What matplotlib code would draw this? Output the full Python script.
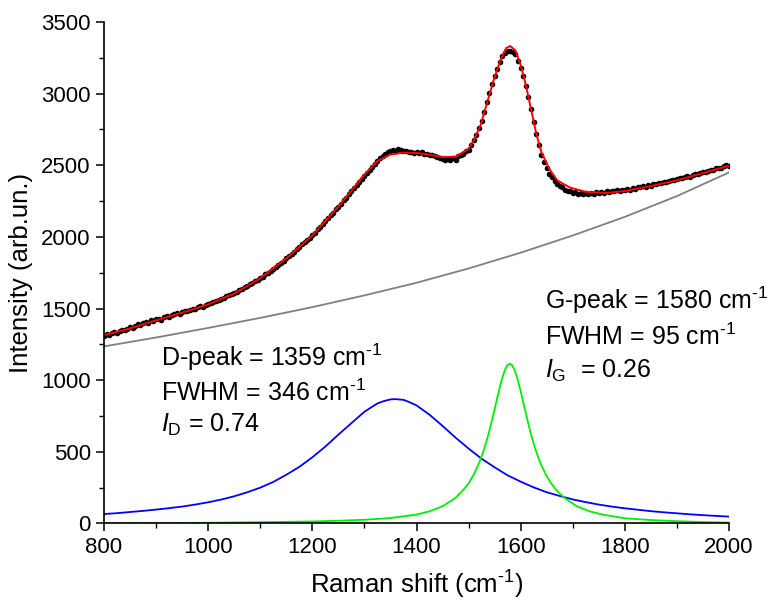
import matplotlib
matplotlib.use("Agg")
import matplotlib.pyplot as plt
from matplotlib.ticker import MultipleLocator

plt.rcParams['font.family'] = ['Liberation Sans', 'DejaVu Sans']
plt.rcParams['mathtext.fontset'] = 'custom'
plt.rcParams['mathtext.rm'] = 'Liberation Sans'
plt.rcParams['mathtext.it'] = 'Liberation Sans:italic'
plt.rcParams['mathtext.bf'] = 'Liberation Sans:bold'

# ---- measured spectrum (black dots), every 5 cm-1 from 800 to 2000 ----
data_start = 800
data_step = 5
data_y = [
    1310, 1322, 1318, 1330, 1335, 1328, 1345, 1352, 1348, 1360,
    1372, 1365, 1380, 1392, 1385, 1398, 1405, 1400, 1418, 1412,
    1425, 1430, 1422, 1440, 1446, 1438, 1455, 1462, 1470, 1465,
    1478, 1485, 1480, 1492, 1500, 1496, 1510, 1515, 1512, 1525,
    1534, 1540, 1548, 1552, 1562, 1570, 1575, 1586, 1592, 1600,
    1610, 1618, 1628, 1640, 1648, 1660, 1672, 1678, 1692, 1700,
    1715, 1722, 1738, 1748, 1762, 1775, 1790, 1802, 1820, 1832,
    1852, 1865, 1882, 1898, 1915, 1930, 1948, 1962, 1982, 1996,
    2015, 2030, 2052, 2068, 2090, 2108, 2130, 2150, 2168, 2192,
    2212, 2232, 2255, 2272, 2298, 2318, 2340, 2360, 2382, 2402,
    2425, 2448, 2470, 2490, 2512, 2532, 2550, 2565, 2580, 2590,
    2598, 2605, 2600, 2612, 2605, 2598, 2602, 2590, 2595, 2588,
    2592, 2585, 2590, 2578, 2582, 2570, 2575, 2562, 2560, 2548,
    2545, 2538, 2542, 2535, 2548, 2540, 2565, 2572, 2580, 2598,
    2610, 2640, 2678, 2710, 2760, 2810, 2875, 2940, 3005, 3068,
    3120, 3175, 3220, 3260, 3285, 3300, 3296, 3290, 3275, 3230,
    3180, 3120, 3055, 2980, 2895, 2800, 2715, 2640, 2575, 2520,
    2478, 2442, 2415, 2390, 2372, 2358, 2345, 2330, 2322, 2318,
    2310, 2312, 2300, 2305, 2298, 2306, 2302, 2310, 2300, 2312,
    2308, 2315, 2310, 2318, 2312, 2322, 2318, 2325, 2320, 2330,
    2326, 2335, 2330, 2342, 2338, 2348, 2345, 2352, 2350, 2362,
    2358, 2370, 2366, 2378, 2374, 2385, 2380, 2392, 2398, 2395,
    2405, 2412, 2408, 2420, 2425, 2418, 2432, 2440, 2436, 2448,
    2455, 2450, 2462, 2470, 2466, 2478, 2484, 2480, 2492, 2500,
    2496,
]
data_x = [data_start + i * data_step for i in range(len(data_y))]

# ---- total fit (red) ----
fit_x = [800, 850, 900, 950, 1000, 1050, 1100, 1150, 1200, 1250, 1300, 1325,
         1350, 1375, 1400, 1425, 1450, 1475, 1500, 1510, 1523, 1535, 1548,
         1561, 1572, 1580, 1590, 1600, 1610, 1620, 1630, 1640, 1655, 1670,
         1695, 1725, 1765, 1800, 1850, 1900, 1950, 2000]
fit_y = [1314, 1362, 1418, 1472, 1530, 1605, 1712, 1850, 2012, 2213, 2435, 2530,
         2575, 2588, 2586, 2574, 2558, 2560, 2615, 2674, 2779, 2930, 3093,
         3232, 3318, 3332, 3302, 3200, 3060, 2890, 2720, 2590, 2475, 2395,
         2344, 2315, 2307, 2320, 2355, 2395, 2446, 2497]

# ---- baseline (gray) ----
base_x = [800, 900, 1000, 1100, 1200, 1300, 1400, 1500, 1600, 1700, 1800, 1900, 2000]
base_y = [1236, 1298, 1365, 1435, 1510, 1592, 1680, 1780, 1890, 2010, 2140, 2285, 2450]

# ---- D band (blue) ----
d_x = [800, 825, 850, 875, 900, 925, 950, 975, 1000, 1025, 1050, 1075, 1100,
       1125, 1150, 1175, 1200, 1225, 1250, 1275, 1300, 1312, 1325, 1337, 1350,
       1359, 1375, 1387, 1400, 1412, 1425, 1450, 1475, 1500, 1525, 1550, 1575,
       1600, 1625, 1650, 1675, 1700, 1725, 1750, 1775, 1800, 1825, 1850, 1875,
       1900, 1925, 1950, 1975, 2000]
d_y = [66, 72, 80, 88, 97, 107, 118, 132, 148, 167, 190, 218, 250,
       290, 340, 395, 462, 537, 620, 700, 780, 808, 838, 854, 866,
       868, 863, 846, 824, 793, 759, 681, 599, 523, 452, 392, 336,
       292, 252, 218, 192, 168, 149, 132, 118, 106, 96, 86, 78,
       71, 64, 58, 53, 48]

# ---- G band (green) ----
g_x = [800, 900, 1000, 1100, 1200, 1250, 1300, 1350, 1400, 1425, 1450, 1475,
       1490, 1500, 1510, 1520, 1525, 1530, 1535, 1540, 1545, 1550, 1555, 1560,
       1565, 1570, 1575, 1579, 1583, 1588, 1593, 1598, 1603, 1608, 1613, 1618,
       1623, 1628, 1633, 1638, 1648, 1658, 1670, 1683, 1695, 1708, 1733, 1758,
       1800, 1850, 1900, 1950, 2000]
g_y = [2, 3, 5, 9, 14, 19, 26, 38, 62, 85, 120, 178,
       235, 278, 343, 420, 469, 522, 582, 649, 721, 798, 877, 952,
       1020, 1074, 1107, 1115, 1107, 1074, 1020, 952, 877, 798, 721, 649,
       582, 522, 469, 422, 343, 282, 227, 182, 151, 120, 84, 62,
       36, 24, 16, 10, 6]

fig = plt.figure(figsize=(7.78, 6.08), dpi=100)
ax = fig.add_axes([0.1337, 0.139, 0.8033, 0.8248])

ax.plot(base_x, base_y, color='#808080', lw=1.3)
ax.plot(d_x, d_y, color='#0000ff', lw=1.3)
ax.plot(g_x, g_y, color='#00ee00', lw=1.3)
ax.plot(data_x, data_y, 'o', color='black', ms=4.0, mew=0)
ax.plot(fit_x, fit_y, color='#ff0000', lw=1.4)

ax.set_xlim(800, 2000)
ax.set_ylim(0, 3500)
ax.xaxis.set_major_locator(MultipleLocator(200))
ax.xaxis.set_minor_locator(MultipleLocator(100))
ax.yaxis.set_major_locator(MultipleLocator(500))
ax.yaxis.set_minor_locator(MultipleLocator(250))
for s in ['top', 'right']:
    ax.spines[s].set_visible(False)
for s in ['left', 'bottom']:
    ax.spines[s].set_linewidth(1.2)
ax.tick_params(which='major', direction='out', length=6, width=1.1, labelsize=16)
ax.tick_params(which='minor', direction='out', length=3.5, width=1.0)

sup = '$^{\\text{-1}}$'
ax.set_xlabel('Raman shift (cm' + sup + ')', fontsize=18.5, labelpad=8)
ax.set_ylabel('Intensity (arb.un.)', fontsize=18.5, labelpad=6)

fs = 18
ax.text(909, 1161, 'D-peak = 1359 cm' + sup, fontsize=fs, va='center')
ax.text(909, 910, 'FWHM = 346 cm' + sup, fontsize=fs, va='center')
ax.text(909, 687, '$\\mathit{I}_{\\mathregular{D}}$ = 0.74', fontsize=fs, va='center')
ax.text(1647, 1558, 'G-peak = 1580 cm' + sup, fontsize=fs, va='center')
ax.text(1647, 1300, 'FWHM = 95 cm' + sup, fontsize=fs, va='center')
ax.text(1647, 1063, '$\\mathit{I}_{\\mathregular{G}}$  = 0.26', fontsize=fs, va='center')

fig.savefig('out.png', dpi=100)
